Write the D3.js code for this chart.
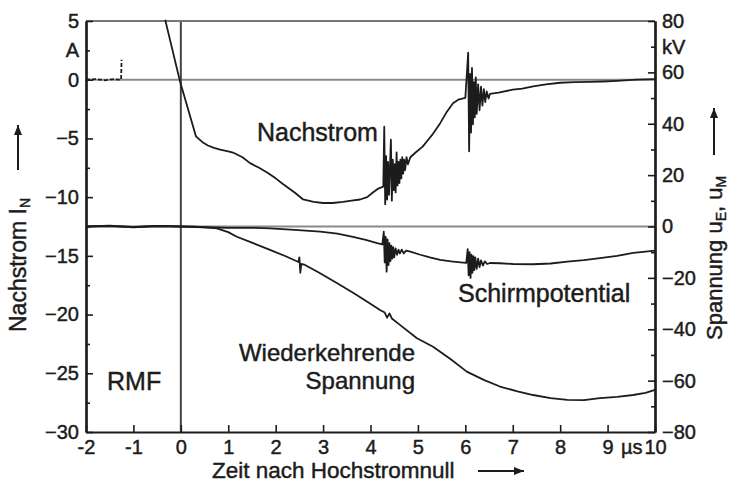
<!DOCTYPE html>
<html><head><meta charset="utf-8">
<script src="https://cdn.jsdelivr.net/npm/d3@7"></script>
<style>
body{margin:0;background:#fff;}
svg text{font-family:"Liberation Sans",Arial,Helvetica,sans-serif;fill:#1c1c1c;stroke:#1c1c1c;stroke-width:0.45px;}
</style></head>
<body><svg id="c" width="732" height="486"></svg>
<script>
// ---- data (time in µs) ----
const nachPreT = [-2, -1.8, -1.6, -1.4, -1.3, -1.26, -1.25];
const nachPreV = [0, 0.05, -0.05, 0.05, 0, 0, 1.7];

const nachT = [-0.33,-0.02,0.32,0.45,0.57,0.7,0.83,1.0,1.1,1.3,1.46,1.65,1.82,2.0,2.16,2.4,2.58,2.8,3.0,3.2,3.42,3.6,3.78,3.93,4.05,4.15,4.27,
  4.29,4.31,4.33,4.35,4.37,4.39,4.41,4.43,4.45,4.47,4.49,4.51,4.53,4.55,4.57,4.59,4.61,4.63,4.65,4.67,4.69,4.71,4.73,4.76,4.79,4.84,
  4.95,5.1,5.2,5.3,5.47,5.6,5.74,5.85,6.0,
  6.06,6.08,6.10,6.12,6.14,6.16,6.18,6.20,6.22,6.24,6.27,6.30,6.33,6.36,6.39,6.42,6.45,6.49,6.52,
  6.7,7.0,7.2,7.43,7.7,8.0,8.3,8.6,8.9,9.2,9.6,10.0];
const nachV = [5.1,-0.1,-4.83,-5.3,-5.6,-5.8,-5.96,-6.1,-6.2,-6.6,-7.1,-7.5,-7.9,-8.4,-8.9,-9.6,-10.2,-10.4,-10.5,-10.5,-10.4,-10.3,-10.2,-10.0,-9.6,-9.3,-9.1,
  -4.0,-10.6,-6.5,-10.2,-7.0,-9.8,-7.5,-5.1,-10.3,-6.8,-9.4,-7.2,-9.6,-6.2,-9.0,-7.0,-8.8,-6.8,-8.4,-6.6,-8.0,-6.8,-7.7,-6.6,-7.2,-6.6,
  -6.2,-5.7,-5.2,-4.7,-3.7,-2.8,-2.0,-1.7,-1.55,
  2.3,-6.1,0.5,-4.5,1.0,-3.8,-0.2,-3.2,0.2,-2.9,-0.4,-2.6,-0.6,-2.2,-0.8,-1.9,-1.0,-1.6,-1.2,
  -1.1,-0.85,-0.75,-0.57,-0.4,-0.26,-0.2,-0.18,-0.15,-0.1,0.0,0.05];

const schirmT = [-2,-1.5,-1.0,-0.5,0,0.5,1.0,1.5,1.88,2.4,2.94,3.3,3.63,3.9,4.14,4.25,
  4.28,4.30,4.32,4.34,4.36,4.38,4.40,4.42,4.44,4.46,4.48,4.50,4.53,4.56,4.59,4.62,4.66,4.70,4.75,4.84,
  5.05,5.25,5.47,5.7,5.9,6.02,
  6.05,6.07,6.09,6.11,6.13,6.15,6.17,6.19,6.21,6.24,6.27,6.30,6.33,6.37,6.41,6.46,6.52,
  6.73,7.0,7.43,7.8,8.15,8.5,8.84,9.2,9.54,9.8,10.0];
const schirmV = [0,0.3,-0.3,0.2,0,-0.3,-0.5,-0.5,-0.7,-1.3,-2.0,-2.8,-4.0,-5.2,-6.5,-7.0,
  -2.0,-14,-4,-17.6,-5,-15,-6.5,-13.5,-7.5,-12.5,-8,-12,-8.5,-11,-9,-10.5,-9.0,-10.5,-9.4,-9.8,
  -11,-12,-13,-13.6,-14,-14.2,
  -8.8,-19,-10,-20,-11,-18,-11.5,-17,-12,-16.5,-12.5,-15.8,-13.2,-15.2,-13.6,-14.6,-14.2,
  -14.3,-14.6,-14.7,-14.4,-13.7,-13.1,-12.3,-11.4,-10.3,-9.8,-9.4];

const wiederT = [-2,-1.5,-1,-0.5,0,0.3,0.5,0.76,1.0,1.18,1.5,1.88,2.2,2.48,2.5,2.52,2.54,2.6,2.9,3.29,3.65,3.99,4.2,4.3,4.35,4.4,4.45,4.62,4.98,5.32,5.7,6.03,6.4,6.73,7.1,7.43,7.8,8.15,8.5,8.84,9.2,9.54,9.8,10.0];
const wiederV = [0,0.2,-0.2,0.2,0,-0.1,-0.3,-0.7,-2.2,-4,-6.3,-9.1,-11.5,-13.8,-12.0,-18.0,-14.6,-14.8,-17.8,-22,-26,-30,-32.5,-33.5,-35.5,-33.8,-35.8,-38.3,-43.5,-46.8,-51.8,-56.5,-59.8,-62.3,-64.2,-65.6,-66.8,-67.5,-67.6,-66.8,-66.3,-65.6,-64.8,-63.6];

const xTicks = [-2,-1,0,1,2,3,4,5,6,7,8,9,9.5,10];
const xTickLabels = ["-2","-1","0","1","2","3","4","5","6","7","8","9","µs","10"];
const leftMajor = [5,0,-5,-10,-15,-20,-25,-30];
const leftMinor = [2.5,-2.5,-7.5,-12.5,-17.5,-22.5,-27.5];
const rightMajor = [80,60,40,20,0,-20,-40,-60,-80];
const rightMinor = [70,50,30,10,-10,-30,-50,-70];

// ---- drawing ----
const svg = d3.select("#c");
const L=86,R=655,T=21,B=432;
const x = d3.scaleLinear([-2,10],[L,R]);
const yL = d3.scaleLinear([-30,5],[B,T]);
const yR = d3.scaleLinear([-80,80],[B,T]);
const ink="#1c1c1c";

// reference lines
svg.append("line").attr("x1",L).attr("x2",R).attr("y1",yL(0)).attr("y2",yL(0)).attr("stroke","#8a8a8a").attr("stroke-width",2);
svg.append("line").attr("x1",L).attr("x2",R).attr("y1",yR(0)).attr("y2",yR(0)).attr("stroke","#8a8a8a").attr("stroke-width",2);
svg.append("line").attr("x1",x(0)).attr("x2",x(0)).attr("y1",T).attr("y2",B).attr("stroke","#444").attr("stroke-width",2);
// top frame
svg.append("line").attr("x1",L).attr("x2",R).attr("y1",T).attr("y2",T).attr("stroke","#777").attr("stroke-width",2);

function styleAxis(g){
  g.select(".domain").attr("stroke",ink).attr("stroke-width",2.2);
  g.selectAll(".tick line").attr("stroke",ink).attr("stroke-width",1.6);
  g.selectAll(".tick text").attr("font-size",20).attr("fill",ink).attr("font-family",null);
}
// left axis
const gL = svg.append("g").attr("transform",`translate(${L},0)`)
  .call(d3.axisLeft(yL).tickValues(leftMajor).tickSize(-7).tickPadding(7).tickSizeOuter(0).tickFormat(d3.format("d")));
styleAxis(gL);
const gLm = svg.append("g").attr("transform",`translate(${L},0)`)
  .call(d3.axisLeft(yL).tickValues(leftMinor).tickSize(-4).tickPadding(7).tickSizeOuter(0).tickFormat(d=>d===2.5?"A":""));
styleAxis(gLm);
// right axis
const gR = svg.append("g").attr("transform",`translate(${R},0)`)
  .call(d3.axisRight(yR).tickValues(rightMajor).tickSize(-7).tickPadding(7).tickSizeOuter(0).tickFormat(d3.format("d")));
styleAxis(gR);
const gRm = svg.append("g").attr("transform",`translate(${R},0)`)
  .call(d3.axisRight(yR).tickValues(rightMinor).tickSize(-4).tickPadding(7).tickSizeOuter(0).tickFormat(d=>d===70?"kV":""));
styleAxis(gRm);
// bottom axis
const gB = svg.append("g").attr("transform",`translate(0,${B})`)
  .call(d3.axisBottom(x).tickValues(xTicks).tickSize(-7).tickPadding(8).tickSizeOuter(0).tickFormat((d,i)=>xTickLabels[i]));
styleAxis(gB);
gB.selectAll(".tick").filter(d=>d===9.5).select("line").remove();

// curves
const lineL = d3.line().x(d=>x(d[0])).y(d=>yL(d[1]));
const lineR = d3.line().x(d=>x(d[0])).y(d=>yR(d[1]));
const zip=(a,b)=>a.map((t,i)=>[t,b[i]]);
const cs = {fill:"none",stroke:ink,"stroke-width":1.8,"stroke-linejoin":"round"};
function path(d,gen){const p=svg.append("path").attr("d",gen(d));for(const k in cs)p.attr(k,cs[k]);return p;}
path(zip(nachPreT,nachPreV),lineL).attr("stroke-dasharray","4,2");
path(zip(nachT,nachV),lineL);
path(zip(schirmT,schirmV),lineR);
path(zip(wiederT,wiederV),lineR);

// labels
function txt(s,xx,yy,fs,anchor){return svg.append("text").attr("x",xx).attr("y",yy).attr("font-size",fs).attr("text-anchor",anchor||"start").text(s);}
txt("Nachstrom",257,141,25);
txt("Schirmpotential",458,302,25);
txt("Wiederkehrende",415,361,24,"end");
txt("Spannung",415,389,24,"end");
txt("RMF",107,390,25);
txt("Zeit nach Hochstromnull",212,478,22.5);

// arrows
function arrow(x1,y1,x2,y2){
  svg.append("line").attr("x1",x1).attr("y1",y1).attr("x2",x2).attr("y2",y2).attr("stroke",ink).attr("stroke-width",2);
  const a=Math.atan2(y2-y1,x2-x1),h=10,w=4;
  const p=[[x2,y2],[x2-h*Math.cos(a)+w*Math.sin(a),y2-h*Math.sin(a)-w*Math.cos(a)],[x2-h*Math.cos(a)-w*Math.sin(a),y2-h*Math.sin(a)+w*Math.cos(a)]];
  svg.append("polygon").attr("points",p.map(q=>q.join(",")).join(" ")).attr("fill",ink);
}
arrow(478,471,524,471);
arrow(18,170,18,125);
arrow(714,155,714,108);

// rotated axis titles
const lt = svg.append("text").attr("transform","translate(26,332) rotate(-90)").attr("font-size",23);
lt.append("tspan").text("Nachstrom  I");
lt.append("tspan").attr("font-size",14).attr("dy",4).text("N");
const rt = svg.append("text").attr("transform","translate(722,340) rotate(-90)").attr("font-size",22);
rt.append("tspan").text("Spannung u");
rt.append("tspan").attr("font-size",14).attr("dy",4).text("E");
rt.append("tspan").attr("dy",-4).text(", u");
rt.append("tspan").attr("font-size",14).attr("dy",4).text("M");
</script></body></html>
